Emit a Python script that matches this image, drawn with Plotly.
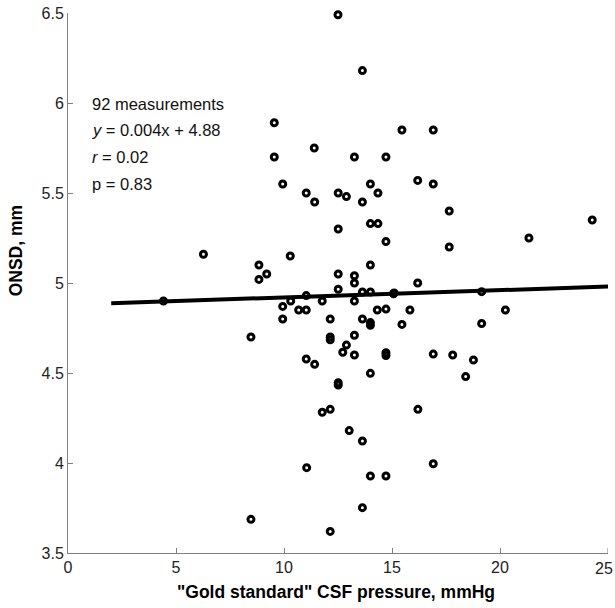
import plotly.graph_objects as go

# CSF pressure (mmHg) and ONSD (mm)
csf_pressure = [12.5, 13.63, 9.55, 15.46, 16.91, 11.4, 9.55, 13.26, 14.72, 16.19,
                9.94, 14.0, 16.91, 11.03, 12.51, 14.35, 12.89, 11.42, 13.63, 17.65,
                24.27, 14.0, 14.35, 12.51, 21.34, 14.72, 17.65, 6.27, 10.29, 8.84,
                14.0, 9.2, 12.51, 13.26, 8.84, 13.26, 16.19, 12.51, 13.63, 14.0,
                19.15, 15.07, 11.03, 4.42, 10.31, 11.77, 13.26, 9.94, 10.68, 11.03,
                14.32, 14.72, 15.83, 20.25, 9.94, 12.14, 13.63, 14.0, 14.0, 15.46,
                19.15, 8.47, 12.14, 12.14, 13.26, 12.89, 12.72, 13.26, 14.72, 14.72,
                16.91, 17.81, 18.77, 11.03, 11.42, 14.0, 18.41, 12.51, 12.51, 11.77,
                12.14, 16.2, 13.02, 13.63, 11.05, 16.91, 14.0, 14.72, 13.63, 8.47,
                12.14, 15.1]
onsd = [6.49, 6.18, 5.89, 5.85, 5.85, 5.75, 5.70, 5.70, 5.70, 5.57,
        5.55, 5.55, 5.55, 5.50, 5.50, 5.50, 5.48, 5.45, 5.45, 5.40,
        5.35, 5.33, 5.33, 5.30, 5.25, 5.23, 5.20, 5.16, 5.15, 5.10,
        5.10, 5.05, 5.05, 5.04, 5.02, 5.00, 5.00, 4.965, 4.95, 4.95,
        4.952, 4.94, 4.93, 4.90, 4.90, 4.90, 4.90, 4.87, 4.85, 4.85,
        4.85, 4.855, 4.85, 4.85, 4.80, 4.80, 4.80, 4.78, 4.765, 4.77,
        4.775, 4.70, 4.70, 4.685, 4.71, 4.655, 4.615, 4.60, 4.613, 4.597,
        4.605, 4.60, 4.572, 4.578, 4.548, 4.498, 4.48, 4.446, 4.433, 4.282,
        4.298, 4.298, 4.18, 4.122, 3.974, 3.996, 3.928, 3.928, 3.752, 3.687,
        3.62, 4.945]

# Regression line parameters
fit_slope = 0.004
fit_intercept = 4.88
fit_x_range = [2.0, 25.0]

stats_lines = ["92 measurements", "<i>y</i> = 0.004x + 4.88", "<i>r</i> = 0.02", "p = 0.83"]
stats_y = [5.995, 5.85, 5.70, 5.55]

x_ticks = [0, 5, 10, 15, 20, 25]
x_tick_text = ["0", "5", "10", "15", "20", "25"]
y_ticks = [3.5, 4, 4.5, 5, 5.5, 6, 6.5]
y_tick_text = ["3.5", "4", "4.5", "5", "5.5", "6", "6.5"]

FONT = "Liberation Sans, Arial, sans-serif"

fig = go.Figure()
fig.add_trace(go.Scatter(
    x=csf_pressure, y=onsd, mode="markers",
    marker=dict(symbol="circle-open", size=6, color="black",
                line=dict(width=3, color="black")),
    showlegend=False, hoverinfo="x+y", cliponaxis=False))

fit_y = [fit_slope * v + fit_intercept for v in fit_x_range]
fig.add_trace(go.Scatter(
    x=fit_x_range, y=fit_y, mode="lines",
    line=dict(color="black", width=4), showlegend=False))

for txt, yy in zip(stats_lines, stats_y):
    fig.add_annotation(x=1.0, y=yy, xref="x", yref="y", text=txt,
                       showarrow=False, xanchor="left", yanchor="middle",
                       font=dict(family=FONT, size=16.5, color="#111"))

# last x tick label, kept right at the page edge
fig.add_annotation(x=1 + 6.5 / 540, y=-0.028, xref="paper", yref="paper",
                   text=x_tick_text[-1], showarrow=False, xanchor="right",
                   yanchor="middle", font=dict(family=FONT, size=16, color="#222"))

fig.add_annotation(x=-0.096, y=0.559, xref="paper", yref="paper",
                   text="<b>ONSD, mm</b>", textangle=-90, showarrow=False,
                   xanchor="center", yanchor="middle",
                   font=dict(family=FONT, size=17.5, color="black"))

fig.add_annotation(x=0.497, y=-0.073, xref="paper", yref="paper",
                   text='<b>"Gold standard" CSF pressure, mmHg</b>',
                   showarrow=False, xanchor="center", yanchor="middle",
                   font=dict(family=FONT, size=17.5, color="black"))

fig.update_layout(
    width=615, height=608,
    margin=dict(l=68, r=7, t=13, b=55),
    paper_bgcolor="white", plot_bgcolor="white",
    font=dict(family=FONT, size=16, color="#222"),
    xaxis=dict(range=[0, 25], tickvals=x_ticks[:-1], ticktext=x_tick_text[:-1],
               ticks="inside", ticklen=5,
               tickcolor="#808080", showline=True, linecolor="#808080",
               linewidth=1, showgrid=False, zeroline=False, mirror=False,
               automargin=False, tickfont=dict(size=16)),
    yaxis=dict(range=[3.5, 6.5], tickvals=y_ticks, ticktext=y_tick_text,
               ticks="inside", ticklen=5, tickcolor="#808080", showline=True,
               linecolor="#808080", linewidth=1, showgrid=False,
               zeroline=False, automargin=False, tickfont=dict(size=16)),
)

# tick mark at x=25 on the bottom axis
fig.add_shape(type="line", xref="x", yref="paper", x0=x_ticks[-1], x1=x_ticks[-1],
              y0=0, y1=5 / 540, line=dict(color="#808080", width=1))

fig.write_html("out.html", config={"displayModeBar": False},
               post_script="document.body.style.margin='0';document.body.style.overflow='hidden';")
